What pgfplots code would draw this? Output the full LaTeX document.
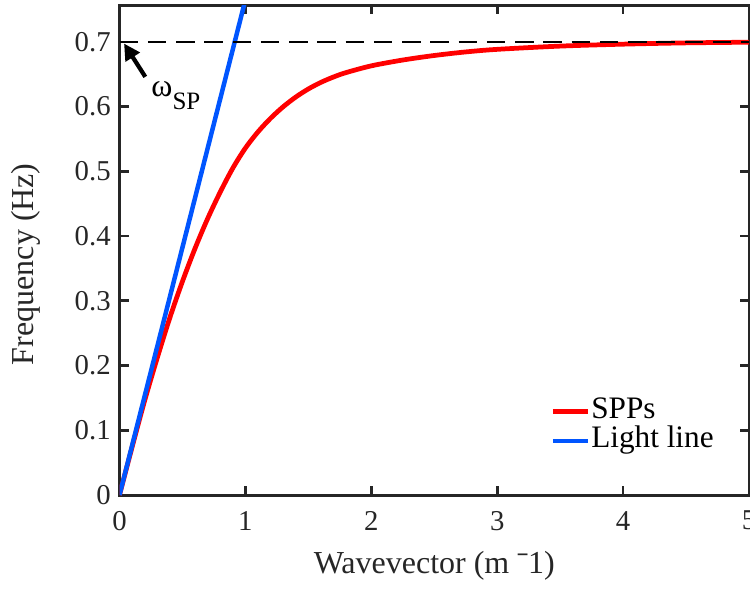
\documentclass[border=0pt]{standalone}
\usepackage{fontspec}
\setmainfont{Liberation Serif}
\usepackage{pgfplots}
\pgfplotsset{compat=1.18}
\usetikzlibrary{arrows.meta}

\definecolor{axgray}{RGB}{38,38,38}
\definecolor{sppred}{RGB}{255,0,0}
\definecolor{lightblue}{RGB}{0,85,255}

% SPP dispersion branch (wavevector, frequency)
\pgfplotstableread{
k w
0.000 0.000
0.100 0.074
0.200 0.146
0.300 0.212
0.400 0.274
0.500 0.330
0.600 0.381
0.700 0.427
0.800 0.468
0.900 0.505
1.000 0.536
1.100 0.561
1.200 0.582
1.300 0.5998
1.400 0.6148
1.500 0.6273
1.600 0.6375
1.700 0.6458
1.800 0.6526
2.000 0.663
2.250 0.672
2.500 0.679
2.750 0.6845
3.000 0.6885
3.500 0.6935
4.000 0.6965
4.500 0.6985
5.000 0.6995
}\spp

% light line
\pgfplotstableread{
k w
0.0 0.000
1.0 0.765
}\light

\begin{document}
\begin{tikzpicture}
\begin{axis}[
  name=ax,
  scale only axis,
  width=251.8pt, height=196pt,
  xmin=0, xmax=5, ymin=0, ymax=0.757,
  xtick={0,1,2,3,4,5},
  ytick={0,0.1,0.2,0.3,0.4,0.5,0.6,0.7},
  /pgf/number format/assume math mode=true,
  yticklabel style={/pgf/number format/fixed, /pgf/number format/precision=1},
  tick align=inside,
  major tick length=3.6pt,
  tick style={axgray, line width=1.1pt},
  axis line style={axgray, line width=1.2pt},
  ticklabel style={font=\fontsize{11.5}{13}\selectfont, text=axgray},
  xticklabel style={yshift=-2.9pt},
  label style={font=\fontsize{12.8}{14}\selectfont, text=axgray},
  xlabel={Wavevector (m ˉ1)},
  ylabel={Frequency (Hz)},
  xlabel style={at={(axis description cs:0.5,-0.16)}, anchor=base},
  ylabel style={at={(axis description cs:-0.1485,0.471)}, anchor=center},
  legend style={
    at={(axis description cs:0.672,0.212)}, anchor=north west,
    draw=none, fill=white,
    font=\fontsize{12.5}{14}\selectfont,
    nodes={inner sep=0.5pt, text height=8.2pt, text depth=2.6pt},
    row sep=0pt,
  },
  legend cell align=left,
  legend image code/.code={\draw[#1, line width=1.8pt] (0pt,0pt) -- (14pt,0pt);},
]
\addplot[sppred, line width=1.9pt, smooth] table[x=k, y=w] {\spp};
\addlegendentry{SPPs}
\addplot[lightblue, line width=1.8pt] table[x=k, y=w] {\light};
\addlegendentry{Light line}

% surface plasmon frequency
\addplot[black, line width=0.85pt, dash pattern=on 7.4pt off 3.9pt, forget plot]
  coordinates {(0,0.7) (5,0.7)};

\draw[black, line width=1.7pt, -{Triangle[length=6.5pt, width=6.5pt]}]
  (axis cs:0.205,0.646) -- (axis cs:0.036,0.6975);
\node[anchor=base west, inner sep=0pt, font=\fontsize{12.8}{14}\selectfont]
  at (axis cs:0.250,0.6156) {ω\raisebox{-5.3pt}{\fontsize{10}{12}\selectfont SP}};
\end{axis}
\pgfresetboundingbox
\path[use as bounding box] ([xshift=-47.8pt,yshift=-39.6pt]ax.south west)
  rectangle ([xshift=0.4pt,yshift=2pt]ax.north east);
\end{tikzpicture}
\end{document}
